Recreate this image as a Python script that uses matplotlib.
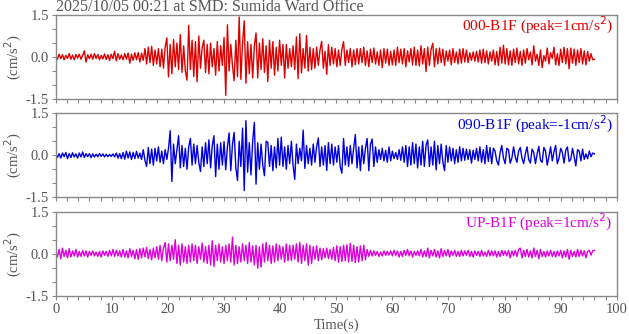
import numpy as np
import matplotlib
matplotlib.use("Agg")
import matplotlib.pyplot as plt

plt.rcParams['font.family'] = ['Liberation Serif', 'DejaVu Serif']
plt.rcParams['axes.unicode_minus'] = False

title = "2025/10/05 00:21 at SMD: Sumida Ward Office"
labels = ["000-B1F (peak=1cm/s$^2$)", "090-B1F (peak=-1cm/s$^2$)", "UP-B1F (peak=1cm/s$^2$)"]
colors = ["#dd0000", "#0000dd", "#dd00dd"]
dt = 0.3  # seconds between the read-off points

ns = [
    0.05, -0.08, 0.10, -0.06, 0.08, -0.10, 0.06, -0.05, 0.12, -0.08, 0.07, -0.10, 0.09, -0.04, 0.10, -0.08, 0.06, 0.22, -0.18, 0.08,
    -0.06, 0.10, -0.08, 0.12, -0.05, 0.09, -0.10, 0.06, -0.07, 0.11, -0.09, 0.08, -0.12, 0.10, -0.06, 0.20, -0.14, 0.12, -0.08, 0.07,
    -0.10, 0.12, -0.08, 0.14, -0.22, 0.10, -0.12, 0.15, -0.10, 0.16, -0.18, 0.14, -0.12, 0.30, -0.25, 0.35, -0.20, 0.38, -0.30, 0.25,
    -0.25, 0.30, -0.35, 0.28, -0.40, 0.35, 0.68, -0.71, 0.45, -0.60, 0.62, -0.35, 0.50, -0.45, 0.80, -0.55, 0.40, -0.50, -0.83, 1.13,
    -0.45, 0.60, -0.70, 0.55, -0.89, 0.75, -0.40, 0.35, 0.60, -0.55, 0.45, -0.60, 0.50, -0.35, 0.30, -0.65, 0.55, -0.50, 0.40, -0.30,
    0.70, -1.37, 1.15, -0.50, 0.45, -0.30, -0.85, 0.60, -0.70, 1.43, -0.80, 0.50, 1.29, -0.94, 0.55, -0.60, 0.45, -0.75, 0.40, 0.86,
    -0.75, 0.50, -0.45, 0.65, -0.55, 0.40, -0.88, 0.60, -0.40, 0.55, -0.65, 0.35, -0.50, 0.60, -0.30, 0.45, -0.75, 0.45, -0.40, 0.30,
    -0.35, 0.40, -0.45, 0.72, -0.77, 0.83, -0.57, 0.30, -0.40, 0.77, -0.50, 0.35, -0.45, 0.30, -0.40, 0.35, -0.30, 0.25, 0.56, -0.40,
    0.20, -0.62, 0.44, -0.30, 0.35, -0.25, 0.30, -0.35, 0.25, -0.30, 0.28, 0.55, -0.30, 0.25, -0.20, 0.30, -0.35, 0.25, -0.28, 0.30,
    -0.25, 0.30, -0.20, 0.35, -0.30, 0.22, -0.35, 0.28, -0.20, 0.32, -0.25, 0.18, -0.30, 0.25, -0.38, 0.30, -0.22, 0.28, -0.30, 0.20,
    -0.28, 0.25, -0.30, 0.35, -0.20, 0.28, -0.25, 0.30, -0.35, 0.22, -0.18, 0.30, -0.28, 0.35, -0.30, 0.25, -0.32, 0.40, -0.25, 0.30,
    -0.52, 0.35, -0.30, 0.28, 0.49, -0.35, 0.30, -0.25, 0.32, -0.20, 0.28, -0.30, 0.22, -0.15, 0.25, -0.28, 0.30, -0.20, 0.18, -0.25,
    0.28, -0.22, 0.30, -0.18, 0.25, -0.20, 0.15, -0.12, 0.18, -0.15, 0.20, -0.18, 0.25, -0.22, 0.28, -0.20, 0.22, -0.25, 0.18, -0.15,
    0.25, -0.28, 0.20, -0.30, 0.35, -0.22, 0.42, -0.25, 0.30, -0.28, 0.22, -0.30, 0.28, -0.20, 0.32, -0.25, 0.20, -0.30, 0.25, -0.22,
    0.30, -0.10, 0.18, -0.28, 0.40, -0.15, 0.10, -0.30, 0.25, -0.38, 0.05, -0.15, 0.32, -0.25, 0.15, -0.05, 0.35, -0.28, 0.12, -0.30,
    0.28, -0.20, 0.35, -0.25, 0.30, -0.42, 0.32, -0.22, 0.28, -0.30, 0.25, -0.20, 0.30, -0.25, 0.22, -0.28, 0.20, -0.15, 0.12, -0.10,
    -0.08,
]

# 090 component
ew = [
    0.05, -0.08, 0.06, -0.10, 0.08, -0.05, 0.10, -0.12, 0.06, -0.08, 0.09, -0.06, 0.05, -0.10, 0.08, -0.06, 0.12, -0.08, 0.06, -0.05,
    0.06, -0.08, 0.05, -0.06, 0.04, -0.05, 0.06, -0.04, 0.05, -0.06, 0.04, -0.05, 0.03, -0.04, 0.05, -0.06, 0.08, -0.10, 0.06, -0.12,
    0.10, -0.14, 0.15, -0.10, 0.12, -0.15, 0.10, -0.12, 0.14, -0.10, 0.08, -0.15, 0.20, -0.18, -0.40, 0.28, -0.30, 0.22, -0.35, 0.25,
    -0.20, 0.30, -0.25, 0.15, -0.30, 0.20, -0.15, 0.25, 0.88, -0.94, 0.40, -0.30, 0.20, 0.70, -0.45, 0.35, -0.40, 0.25, -0.50, 0.30,
    0.60, -0.35, 0.40, -0.30, 0.35, -0.25, -0.58, 0.30, -0.40, 0.45, -0.30, 0.55, -0.45, 0.35, 0.70, -0.76, 0.40, -0.50, 0.45, -0.35,
    0.49, -0.52, 0.30, 0.80, -0.55, 0.40, 0.82, -0.45, -0.90, 0.50, -0.40, 0.97, -1.26, 1.24, -0.60, 0.45, -0.70, 0.50, 1.17, -1.03,
    0.45, -0.50, 0.40, -0.35, -0.73, 0.50, 0.46, -0.40, 0.35, -0.55, 0.30, -0.45, 0.60, -0.35, 0.65, -0.40, 0.30, -0.50, 0.35, -0.30,
    0.50, -0.35, -0.86, 0.40, -0.30, 0.25, -0.20, 0.90, -0.47, 0.35, -0.30, 0.25, -0.35, 0.40, -0.25, 0.30, 0.62, -0.40, 0.30, -0.35,
    0.35, -0.54, 0.45, -0.30, 0.40, -0.35, 0.30, -0.25, 0.35, -0.40, -0.64, 0.60, -0.35, 0.30, -0.40, 0.35, -0.30, 0.25, 0.74, -0.45,
    0.30, -0.55, 0.35, -0.30, 0.25, 0.60, -0.55, 0.40, 0.58, -0.40, 0.30, -0.25, 0.20, -0.15, 0.25, -0.20, 0.18, -0.25, 0.30, -0.20,
    0.15, -0.12, 0.10, -0.15, 0.20, -0.18, 0.30, -0.25, 0.35, -0.40, 0.30, -0.35, 0.45, -0.30, 0.40, -0.45, 0.30, -0.35, 0.50, -0.40,
    0.35, 0.55, -0.40, 0.30, -0.35, 0.50, -0.52, 0.35, -0.30, 0.40, -0.25, -0.55, 0.35, -0.25, 0.30, -0.20, 0.25, -0.30, 0.20, -0.25,
    0.30, -0.20, 0.25, -0.18, 0.22, -0.15, 0.20, -0.28, 0.18, -0.15, 0.25, -0.20, 0.30, -0.25, 0.20, -0.30, 0.35, -0.22, 0.28, -0.30,
    0.25, 0.15, -0.20, -0.35, 0.10, 0.35, -0.10, -0.30, 0.25, 0.20, -0.28, -0.10, 0.30, -0.05, -0.25, 0.15, 0.28, -0.10, -0.30, 0.05,
    0.30, -0.15, -0.28, 0.22, 0.10, -0.30, 0.05, 0.32, -0.18, -0.25, 0.28, 0.15, -0.35, -0.05, 0.30, -0.20, 0.12, 0.35, -0.30, -0.10,
    0.25, 0.10, -0.28, 0.18, 0.30, -0.22, -0.15, 0.25, -0.05, -0.38, 0.20, 0.15, -0.20, 0.22, -0.15, 0.05, -0.12, 0.15, -0.05, 0.08,
    0.05,
]

# UP component
ud = [
    0.08, -0.12, 0.15, -0.18, 0.20, -0.10, 0.12, -0.15, 0.18, -0.12, 0.10, -0.08, 0.15, -0.12, 0.08, -0.10, 0.12, -0.08, 0.10, -0.12,
    0.08, -0.06, 0.10, -0.08, 0.06, -0.10, 0.08, -0.12, 0.10, -0.06, 0.08, -0.10, 0.12, -0.08, 0.15, -0.10, 0.12, -0.08, 0.10, -0.12,
    0.15, -0.12, 0.10, -0.15, 0.18, -0.10, 0.12, -0.18, 0.15, -0.20, 0.18, -0.15, 0.20, -0.12, 0.22, -0.18, 0.15, -0.22, 0.20, -0.15,
    0.25, -0.20, 0.30, -0.25, 0.20, 0.40, -0.30, 0.35, -0.25, 0.30, -0.20, 0.50, -0.35, 0.30, -0.40, 0.35, -0.30, 0.25, -0.35, 0.30,
    -0.30, 0.35, -0.25, 0.30, -0.35, 0.25, -0.20, 0.38, -0.30, 0.25, -0.35, 0.30, -0.40, 0.46, -0.46, 0.30, -0.25, 0.35, -0.30, 0.25,
    -0.35, 0.30, -0.25, 0.35, -0.30, 0.59, -0.40, 0.30, -0.35, 0.25, -0.30, 0.35, -0.25, 0.30, -0.35, 0.40, -0.30, 0.28, -0.40, 0.30,
    -0.52, 0.25, -0.48, 0.35, -0.30, 0.40, -0.25, 0.30, -0.35, 0.28, -0.30, 0.35, -0.25, 0.30, -0.20, 0.25, -0.30, 0.35, -0.25, 0.30,
    -0.25, 0.30, -0.20, 0.35, -0.30, 0.40, -0.35, 0.30, -0.25, 0.35, -0.41, 0.30, -0.35, 0.25, -0.20, 0.28, -0.25, 0.20, -0.22, 0.18,
    -0.15, 0.20, -0.18, 0.15, -0.20, 0.22, -0.25, 0.28, -0.30, 0.25, -0.28, 0.30, -0.25, 0.32, -0.30, 0.37, -0.28, 0.30, -0.32, 0.25,
    -0.30, 0.28, -0.25, 0.30, -0.22, 0.15, -0.10, 0.12, -0.08, 0.10, -0.06, 0.08, -0.10, 0.06, -0.08, 0.10, -0.06, 0.08, -0.05, 0.10,
    -0.08, 0.12, -0.06, 0.10, -0.12, 0.08, -0.10, 0.12, -0.06, 0.15, -0.08, 0.10, -0.12, 0.08, -0.06, 0.10, -0.08, 0.15, -0.12, 0.10,
    -0.10, 0.20, -0.15, 0.12, -0.08, 0.15, -0.12, 0.10, -0.15, 0.18, -0.10, 0.12, -0.08, 0.15, -0.12, 0.10, -0.06, 0.12, -0.10, 0.08,
    -0.10, 0.12, -0.08, 0.10, -0.06, 0.12, -0.10, 0.08, -0.12, 0.10, -0.06, 0.08, -0.10, 0.12, -0.08, 0.06, -0.10, 0.12, -0.08, 0.10,
    -0.08, 0.10, -0.12, 0.08, -0.10, 0.12, -0.06, 0.10, -0.08, 0.12, -0.15, 0.10, -0.08, 0.12, -0.10, 0.15, 0.20, -0.15, 0.12, -0.10,
    0.15, -0.12, 0.10, -0.15, 0.20, -0.10, 0.12, -0.18, 0.15, -0.10, 0.08, -0.12, 0.10, -0.08, 0.12, -0.10, 0.08, -0.12, 0.10, -0.08,
    0.12, -0.15, 0.10, -0.12, 0.15, -0.20, 0.12, -0.10, 0.08, -0.12, 0.15, -0.10, 0.12, -0.08, 0.10, -0.15, 0.08, 0.12, -0.05, 0.10,
    0.12,
]

grey = "#888888"
txt = "#555555"
fs = 10.5

fig = plt.figure(figsize=(6.29, 3.34), dpi=100)
left, width, height = 0.0886, 0.892, 0.2515
bottoms = [0.7036, 0.4093, 0.1147]

for k, (vals, lab, col) in enumerate(zip([ns, ew, ud], labels, colors)):
    ax = fig.add_axes([left, bottoms[k], width, height])
    t = np.arange(len(vals)) * dt
    ax.plot(t, vals, color=col, lw=1.0)
    ax.set_xlim(0, 100)
    ax.set_ylim(-1.5, 1.5)
    ax.set_xticks(np.arange(0, 101, 10))
    ax.set_xticks(np.arange(0, 101, 2), minor=True)
    ax.set_yticks([-1.5, 0, 1.5])
    ax.set_yticks(np.arange(-1.5, 1.51, 0.5), minor=True)
    ax.yaxis.set_major_formatter(matplotlib.ticker.FormatStrFormatter('%.1f'))
    ax.tick_params(which='both', direction='out', length=3, width=0.8,
                   color=grey, labelcolor=txt, labelsize=fs, pad=2)
    if k < 2:
        ax.tick_params(axis='x', labelbottom=False)
    for s in ax.spines.values():
        s.set_color(grey)
        s.set_linewidth(1.0)
    ax.set_ylabel("(cm/s$^2$)", color=txt, fontsize=fs, labelpad=1)
    ax.text(0.993, 0.87, lab, transform=ax.transAxes, ha='right', va='center',
            color=col, fontsize=fs + 0.5)
    if k == 0:
        ax.set_title(title, loc='left', fontsize=fs + 1, color=txt, pad=1)
    if k == 2:
        ax.set_xlabel("Time(s)", color=txt, fontsize=fs, labelpad=2)

fig.savefig("out.png", dpi=100)
